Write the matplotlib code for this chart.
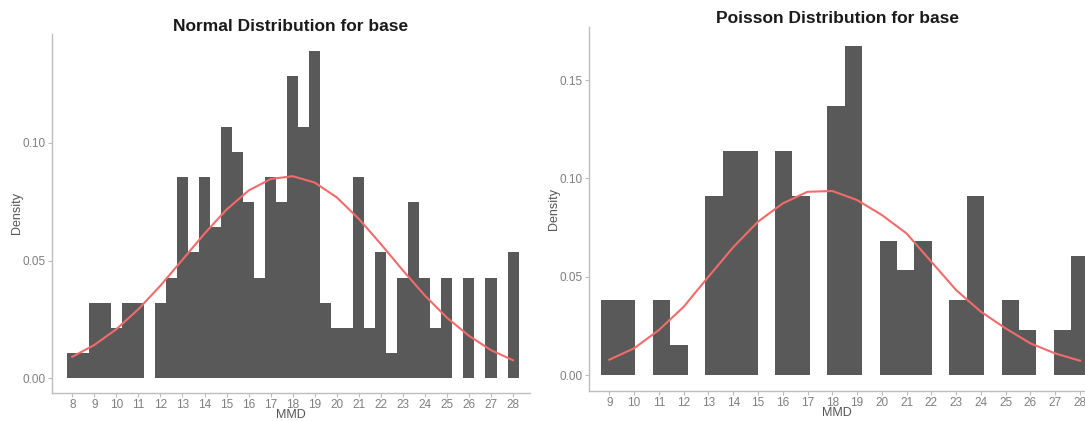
import matplotlib
matplotlib.use("Agg")
from matplotlib import pyplot as plt

plt.rcParams['font.family'] = ['Liberation Sans', 'DejaVu Sans']

# left panel: histogram, bins of width 0.5 centred on 8, 8.5, ..., 28
normal_centers = [8 + 0.5 * i for i in range(41)]
normal_density = [0.0107, 0.0107, 0.0321, 0.0321, 0.0214, 0.0321, 0.0321, 0.0, 0.0321, 0.0428,
                  0.0856, 0.0535, 0.0856, 0.0642, 0.1070, 0.0963, 0.0749, 0.0428, 0.0856, 0.0749,
                  0.1283, 0.1070, 0.1390, 0.0321, 0.0214, 0.0214, 0.0856, 0.0214, 0.0535, 0.0107,
                  0.0428, 0.0749, 0.0428, 0.0214, 0.0428, 0.0, 0.0428, 0.0, 0.0428, 0.0, 0.0535]
normal_curve_x = list(range(8, 29))
normal_curve_y = [0.0092, 0.0142, 0.0209, 0.0294, 0.0394, 0.0504, 0.0615, 0.0717, 0.0798, 0.0847,
                  0.0859, 0.0832, 0.0769, 0.0678, 0.0571, 0.0459, 0.0352, 0.0258, 0.0181, 0.0120,
                  0.0077]
normal_ticks = list(range(8, 29))

# right panel: histogram, 28 bins of width 19/27 centred from 9 to 28
pois_width = 19 / 27
pois_centers = [9 + pois_width * i for i in range(28)]
pois_density = [0.0380, 0.0380, 0.0, 0.0380, 0.0152, 0.0, 0.0912, 0.1140, 0.1140, 0.0,
                0.1140, 0.0912, 0.0, 0.1368, 0.1672, 0.0, 0.0684, 0.0532, 0.0684, 0.0,
                0.0380, 0.0912, 0.0, 0.0380, 0.0228, 0.0, 0.0228, 0.0608]
pois_curve_x = list(range(9, 29))
pois_curve_y = [0.0078, 0.0136, 0.0229, 0.0347, 0.0500, 0.0650, 0.0780, 0.0873, 0.0932, 0.0936,
                0.0890, 0.0814, 0.0720, 0.0576, 0.0432, 0.0322, 0.0237, 0.0161, 0.0110, 0.0073]
pois_ticks = list(range(9, 29))

bar_color = '#595959'
line_color = '#f26b6b'
axis_color = '#bdbdbd'
text_color = '#7f7f7f'

fig = plt.figure(figsize=(10.85, 4.21), dpi=100)
ax1 = fig.add_axes([52 / 1085, 28 / 421, 478 / 1085, 359 / 421])
ax2 = fig.add_axes([589 / 1085, 30 / 421, 496 / 1085, 364 / 421])


def style(ax, title, ticks, yticks, title_pad):
    for side in ['top', 'right']:
        ax.spines[side].set_visible(False)
    for side in ['left', 'bottom']:
        ax.spines[side].set_color(axis_color)
        ax.spines[side].set_linewidth(1.0)
    ax.set_xticks(ticks)
    ax.set_yticks(yticks)
    ax.set_yticklabels(['%.2f' % v for v in yticks])
    ax.tick_params(colors=axis_color, labelcolor=text_color, labelsize=8.5, length=3, width=0.8, pad=1.5)
    ax.set_xlabel('MMD', fontsize=9, color='#555555', labelpad=-1.5)
    ax.set_ylabel('Density', fontsize=9, color='#555555', labelpad=0)
    ax.set_title(title, fontsize=12.5, fontweight='bold', color='#1a1a1a', pad=title_pad)


ax1.bar(normal_centers, normal_density, width=0.5, color=bar_color, linewidth=0)
ax1.plot(normal_curve_x, normal_curve_y, color=line_color, linewidth=1.5)
ax1.set_xlim(7.08, 28.77)
ax1.set_ylim(-0.0062, 0.1463)
style(ax1, 'Normal Distribution for base', normal_ticks, [0.0, 0.05, 0.10], 2)

ax2.bar(pois_centers, pois_density, width=pois_width, color=bar_color, linewidth=0)
ax2.plot(pois_curve_x, pois_curve_y, color=line_color, linewidth=1.5)
ax2.set_xlim(8.18, 28.2)
ax2.set_ylim(-0.0081, 0.177)
style(ax2, 'Poisson Distribution for base', pois_ticks, [0.0, 0.05, 0.10, 0.15], 3)

fig.savefig('out.png', dpi=100)
